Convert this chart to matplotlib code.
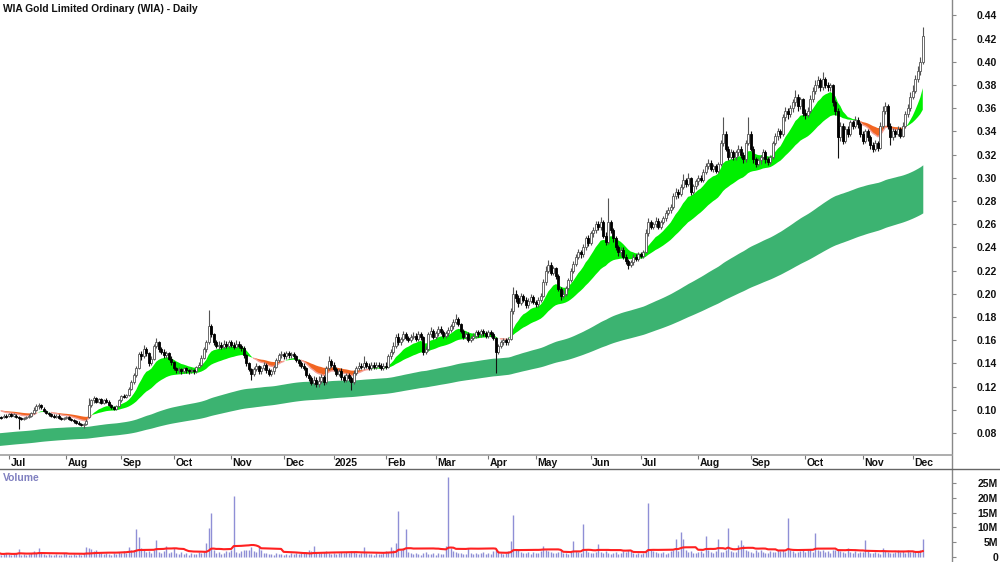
import numpy as np
import pandas as pd
import matplotlib
matplotlib.use("Agg")
import matplotlib.pyplot as plt
from matplotlib.lines import Line2D

plt.rcParams['font.family'] = ['Liberation Sans', 'DejaVu Sans']

# ---------------- data ----------------
title = "WIA Gold Limited Ordinary (WIA) - Daily"
start_date = "2024-06-25"
end_date = "2025-12-05"
holidays = ["2024-12-25", "2024-12-26", "2025-01-01", "2025-01-27",
            "2025-04-18", "2025-04-21", "2025-04-25", "2025-06-09"]

# prices in 0.1 cent units (divide by 1000 for A$)
open_m = [
    93, 94, 94, 95, 95, 96, 95, 95, 94, 93,
    92, 93, 94, 95, 97, 100, 103, 104, 101, 99,
    97, 96, 95, 94, 95, 93, 92, 93, 94, 92,
    91, 90, 89, 88, 87, 88, 94, 104, 108, 110,
    107, 109, 106, 108, 107, 104, 102, 101, 103, 108,
    112, 111, 113, 118, 124, 130, 136, 148, 146, 152,
    149, 140, 144, 155, 158, 152, 150, 147, 149, 144,
    141, 136, 134, 135, 133, 136, 134, 133, 134, 133,
    137, 139, 145, 152, 158, 172, 165, 158, 155, 156,
    154, 157, 155, 158, 156, 154, 157, 155, 153, 147,
    140, 135, 131, 135, 138, 133, 136, 139, 134, 131,
    133, 137, 143, 147, 148, 146, 149, 147, 148, 146,
    143, 140, 138, 136, 130, 127, 123, 126, 122, 125,
    128, 124, 136, 142, 139, 135, 131, 133, 128, 126,
    130, 127, 124, 132, 136, 138, 137, 140, 138, 136,
    139, 137, 139, 138, 136, 138, 137, 146, 150, 155,
    163, 158, 161, 165, 162, 160, 163, 164, 161, 165,
    163, 150, 152, 165, 168, 163, 166, 170, 167, 164,
    166, 169, 172, 176, 178, 174, 168, 163, 165, 160,
    162, 164, 167, 165, 168, 166, 164, 167, 165, 162,
    150, 155, 158, 160, 158, 161, 185, 200, 196, 192,
    198, 195, 190, 194, 197, 193, 191, 195, 198, 210,
    220, 225, 218, 222, 215, 204, 198, 200, 205, 212,
    220, 226, 232, 236, 234, 240, 248, 244, 252, 255,
    260, 258, 262, 250, 245, 262, 255, 248, 240, 236,
    238, 232, 228, 225, 227, 232, 230, 234, 233, 236,
    252, 262, 258, 260, 263, 258, 262, 265, 270, 272,
    275, 284, 288, 286, 292, 298, 295, 300, 288, 293,
    297, 300, 298, 305, 310, 313, 308, 310, 306, 312,
    330, 338, 325, 318, 322, 318, 322, 325, 320, 316,
    330, 338, 325, 316, 312, 315, 318, 322, 316, 314,
    318, 330, 336, 340, 338, 352, 358, 355, 360, 365,
    370, 362, 368, 356, 354, 358, 368, 375, 380, 384,
    378, 385, 380, 378, 380, 365, 358, 335, 345, 332,
    342, 338, 348, 345, 350, 346, 338, 332, 340, 335,
    328, 325, 330, 326, 345, 358, 362, 345, 335, 340,
    338, 342, 336, 345, 355, 360, 370, 375, 385, 392,
    400,
]
high_m = [
    96, 95, 96, 96, 97, 97, 97, 96, 95, 94,
    94, 95, 96, 98, 102, 105, 106, 105, 102, 100,
    98, 97, 96, 96, 96, 94, 94, 95, 95, 93,
    92, 91, 90, 89, 89, 92, 110, 109, 112, 111,
    110, 110, 109, 110, 108, 105, 103, 104, 109, 113,
    114, 114, 120, 126, 132, 138, 150, 151, 156, 154,
    150, 146, 157, 162, 159, 154, 152, 151, 150, 146,
    142, 137, 137, 136, 137, 137, 135, 136, 135, 138,
    141, 147, 154, 160, 186, 174, 166, 160, 159, 158,
    160, 159, 160, 160, 158, 160, 159, 157, 155, 148,
    141, 136, 137, 140, 139, 138, 141, 140, 136, 135,
    139, 145, 149, 151, 150, 151, 151, 150, 150, 147,
    144, 142, 140, 137, 132, 129, 129, 128, 129, 131,
    130, 138, 146, 144, 141, 137, 135, 136, 130, 132,
    132, 129, 134, 138, 141, 140, 146, 142, 140, 141,
    141, 141, 141, 140, 140, 141, 148, 152, 158, 165,
    166, 163, 168, 167, 164, 165, 167, 166, 168, 167,
    164, 155, 167, 171, 170, 168, 172, 172, 169, 168,
    171, 174, 178, 183, 180, 175, 170, 167, 167, 164,
    166, 169, 169, 170, 170, 168, 169, 169, 167, 163,
    157, 160, 162, 162, 163, 188, 206, 203, 199, 201,
    200, 197, 196, 200, 199, 195, 197, 201, 213, 224,
    229, 227, 224, 223, 217, 206, 203, 207, 214, 222,
    228, 234, 239, 238, 243, 250, 251, 254, 258, 263,
    263, 266, 264, 253, 283, 264, 257, 250, 242, 240,
    240, 234, 230, 229, 234, 234, 236, 236, 238, 256,
    265, 264, 262, 266, 265, 264, 267, 272, 275, 277,
    287, 291, 290, 295, 303, 300, 304, 301, 295, 299,
    302, 302, 308, 313, 316, 315, 312, 312, 314, 333,
    352, 340, 327, 325, 324, 324, 328, 327, 322, 333,
    352, 340, 327, 318, 317, 320, 325, 324, 318, 320,
    332, 339, 343, 342, 355, 361, 360, 363, 368, 376,
    372, 370, 369, 359, 361, 371, 378, 384, 388, 386,
    391, 387, 383, 382, 381, 367, 360, 348, 347, 345,
    345, 350, 350, 353, 352, 348, 340, 342, 342, 337,
    331, 333, 332, 348, 362, 365, 364, 347, 343, 342,
    345, 344, 348, 358, 364, 374, 380, 389, 396, 404,
    430,
]
low_m = [
    92, 92, 93, 93, 94, 94, 94, 93, 83, 91,
    91, 92, 93, 94, 96, 99, 101, 101, 98, 96,
    95, 94, 93, 93, 92, 91, 91, 92, 91, 90,
    89, 88, 87, 86, 84, 87, 93, 102, 106, 106,
    106, 105, 105, 106, 103, 101, 100, 100, 102, 107,
    110, 110, 112, 117, 122, 128, 135, 143, 145, 146,
    138, 139, 143, 153, 150, 148, 145, 145, 143, 139,
    134, 132, 132, 131, 132, 132, 131, 132, 131, 132,
    136, 138, 144, 150, 157, 163, 156, 153, 152, 152,
    152, 153, 153, 154, 152, 153, 153, 151, 145, 138,
    133, 126, 129, 133, 131, 131, 134, 132, 129, 129,
    131, 136, 141, 145, 144, 144, 145, 145, 144, 141,
    138, 136, 134, 128, 125, 121, 121, 120, 120, 123,
    121, 122, 134, 137, 133, 129, 129, 126, 124, 124,
    125, 117, 122, 130, 134, 135, 135, 136, 134, 134,
    135, 135, 136, 134, 134, 135, 136, 144, 148, 153,
    156, 156, 159, 160, 158, 158, 161, 159, 159, 160,
    147, 148, 151, 163, 161, 161, 164, 165, 162, 162,
    164, 167, 170, 174, 172, 166, 161, 161, 158, 158,
    160, 162, 163, 163, 164, 162, 162, 163, 160, 132,
    148, 153, 156, 156, 156, 160, 183, 193, 189, 190,
    193, 188, 188, 192, 191, 189, 189, 193, 197, 208,
    218, 216, 216, 213, 202, 195, 196, 198, 203, 210,
    218, 224, 230, 231, 232, 238, 241, 242, 249, 252,
    255, 255, 248, 242, 243, 252, 245, 238, 233, 233,
    230, 226, 221, 223, 225, 228, 228, 231, 231, 235,
    250, 256, 256, 258, 256, 256, 260, 263, 268, 270,
    273, 282, 283, 284, 290, 292, 293, 285, 286, 290,
    294, 296, 296, 303, 308, 306, 305, 304, 304, 310,
    327, 323, 315, 316, 315, 315, 319, 317, 313, 314,
    328, 323, 313, 309, 310, 312, 316, 313, 311, 312,
    316, 328, 333, 334, 336, 349, 351, 352, 357, 362,
    358, 359, 353, 351, 352, 356, 365, 372, 377, 375,
    376, 377, 375, 375, 362, 354, 317, 332, 329, 330,
    335, 336, 342, 343, 343, 335, 329, 330, 332, 325,
    322, 323, 323, 325, 343, 355, 342, 328, 333, 335,
    336, 334, 335, 343, 352, 358, 368, 373, 383, 389,
    398,
]
close_m = [
    94, 93, 95, 94, 96, 95, 96, 94, 93, 92,
    93, 94, 95, 97, 100, 103, 104, 102, 99, 97,
    96, 95, 94, 95, 93, 92, 93, 94, 92, 91,
    90, 89, 88, 87, 88, 90, 104, 108, 110, 107,
    109, 106, 108, 107, 104, 102, 101, 103, 108, 112,
    111, 113, 118, 124, 130, 136, 148, 146, 152, 149,
    140, 144, 155, 158, 152, 150, 147, 149, 144, 141,
    136, 134, 135, 133, 136, 134, 133, 134, 133, 137,
    139, 145, 152, 158, 172, 165, 158, 155, 156, 154,
    157, 155, 158, 156, 154, 157, 155, 153, 147, 140,
    135, 131, 135, 138, 133, 136, 139, 134, 131, 133,
    137, 143, 147, 148, 146, 149, 147, 148, 146, 143,
    140, 138, 136, 130, 127, 123, 126, 122, 125, 128,
    124, 136, 142, 139, 135, 131, 133, 128, 126, 130,
    127, 124, 132, 136, 138, 137, 140, 138, 136, 139,
    137, 139, 138, 136, 138, 137, 146, 150, 155, 163,
    158, 161, 165, 162, 160, 163, 164, 161, 165, 163,
    150, 152, 165, 168, 163, 166, 170, 167, 164, 166,
    169, 172, 176, 178, 174, 168, 163, 165, 160, 162,
    164, 167, 165, 168, 166, 164, 167, 165, 162, 150,
    155, 158, 160, 158, 161, 185, 200, 196, 192, 198,
    195, 190, 194, 197, 193, 191, 195, 198, 210, 220,
    225, 218, 222, 215, 204, 198, 200, 205, 212, 220,
    226, 232, 236, 234, 240, 248, 244, 252, 255, 260,
    258, 262, 250, 245, 262, 255, 248, 240, 236, 238,
    232, 228, 225, 227, 232, 230, 234, 233, 236, 252,
    262, 258, 260, 263, 258, 262, 265, 270, 272, 275,
    284, 288, 286, 292, 298, 295, 300, 288, 293, 297,
    300, 298, 305, 310, 313, 308, 310, 306, 312, 330,
    338, 325, 318, 322, 318, 322, 325, 320, 316, 330,
    338, 325, 316, 312, 315, 318, 322, 316, 314, 318,
    330, 336, 340, 338, 352, 358, 355, 360, 365, 370,
    362, 368, 356, 354, 358, 368, 375, 380, 384, 378,
    385, 380, 378, 380, 365, 358, 335, 345, 332, 342,
    338, 348, 345, 350, 346, 338, 332, 340, 335, 328,
    325, 330, 326, 345, 358, 362, 345, 335, 340, 338,
    342, 336, 345, 355, 360, 370, 375, 385, 392, 400,
    422,
]
# volume in units of 100,000 shares
volume_h = [
    13, 8, 10, 14, 11, 7, 10, 13, 27, 8,
    10, 7, 11, 14, 19, 13, 31, 16, 10, 8,
    11, 7, 8, 10, 6, 8, 13, 10, 7, 8,
    10, 7, 11, 8, 14, 35, 30, 28, 19, 22,
    16, 13, 10, 14, 11, 8, 13, 10, 16, 14,
    19, 13, 35, 22, 24, 95, 69, 30, 24, 16,
    19, 14, 22, 57, 16, 13, 19, 37, 14, 18,
    29, 13, 10, 16, 11, 14, 8, 13, 10, 11,
    16, 13, 19, 47, 99, 148, 22, 14, 16, 11,
    13, 19, 16, 22, 206, 18, 14, 19, 24, 22,
    25, 35, 19, 16, 37, 22, 14, 13, 10, 11,
    8, 13, 10, 11, 7, 10, 8, 13, 11, 14,
    10, 13, 16, 14, 22, 19, 37, 18, 14, 13,
    16, 19, 14, 11, 13, 10, 14, 16, 13, 18,
    14, 19, 16, 13, 11, 14, 33, 13, 10, 11,
    8, 13, 10, 11, 14, 19, 16, 33, 24, 48,
    155, 22, 29, 94, 18, 13, 10, 14, 11, 8,
    13, 16, 11, 10, 14, 8, 13, 10, 11, 37,
    270, 29, 19, 16, 13, 14, 10, 11, 29, 13,
    10, 14, 11, 13, 16, 10, 14, 11, 19, 22,
    16, 13, 11, 14, 19, 55, 142, 22, 22, 16,
    14, 13, 18, 11, 16, 14, 13, 19, 37, 22,
    19, 16, 13, 14, 18, 22, 14, 13, 11, 16,
    54, 19, 16, 14, 111, 22, 16, 13, 14, 18,
    44, 16, 13, 19, 14, 11, 13, 16, 10, 14,
    19, 16, 22, 22, 13, 11, 14, 10, 13, 19,
    184, 24, 19, 16, 14, 13, 18, 11, 14, 19,
    22, 60, 19, 83, 60, 22, 16, 19, 14, 13,
    16, 19, 14, 71, 22, 16, 14, 19, 62, 18,
    16, 22, 99, 19, 16, 18, 39, 58, 39, 22,
    19, 16, 14, 22, 18, 22, 16, 13, 14, 19,
    16, 18, 22, 19, 22, 16, 131, 22, 19, 14,
    16, 19, 22, 18, 25, 28, 16, 80, 24, 19,
    22, 16, 19, 14, 24, 22, 26, 19, 16, 14,
    32, 16, 13, 19, 14, 18, 16, 59, 19, 14,
    13, 16, 14, 11, 29, 19, 16, 14, 13, 18,
    22, 16, 19, 14, 22, 16, 19, 18, 19, 22,
    62,
]
short_seed = [0.101, 0.100]     # fast, slow edge of short band
long_seed = [0.080, 0.069]      # fast, slow edge of long band
short_periods = [12, 35]
long_periods = [140, 240]
price_ticks = [0.08, 0.10, 0.12, 0.14, 0.16, 0.18, 0.20, 0.22, 0.24,
               0.26, 0.28, 0.30, 0.32, 0.34, 0.36, 0.38, 0.40, 0.42, 0.44]
vol_ticks = [0, 5, 10, 15, 20, 25]
vol_tick_labels = ["0", "5M", "10M", "15M", "20M", "25M"]

# ---------------- derived ----------------
dates = pd.bdate_range(start_date, end_date)
dates = dates[~dates.isin(pd.to_datetime(holidays))]
o = np.array(open_m) / 1000.0
h = np.array(high_m) / 1000.0
l = np.array(low_m) / 1000.0
c = np.array(close_m) / 1000.0
vol = np.array(volume_h) / 10.0   # millions
n = len(c)
x = np.arange(n)


def ema(vals, period, seed):
    a = 2.0 / (period + 1)
    out = np.empty(len(vals))
    e = seed
    for i, v in enumerate(vals):
        e = e + a * (v - e)
        out[i] = e
    return out


s_fast = ema(c, short_periods[0], short_seed[0])
s_slow = ema(c, short_periods[1], short_seed[1])
l_fast = ema(c, long_periods[0], long_seed[0])
l_slow = ema(c, long_periods[1], long_seed[1])
vol_ma = pd.Series(vol).rolling(20, min_periods=1).mean().values

# month ticks: first trading day of each month in the series
per = dates.to_period('M')
tick_idx = [i for i in range(n) if i > 0 and per[i] != per[i - 1]]
tick_lab = [str(dates[i].year) if dates[i].month == 1 else dates[i].strftime('%b')
            for i in tick_idx]

# ---------------- figure ----------------
W, H = 1000, 562
fig = plt.figure(figsize=(W / 100, H / 100), dpi=100)
fig.patch.set_facecolor('white')
right = 952 / W
ax = fig.add_axes([0, (H - 455) / H, right, 455 / H])
axd = fig.add_axes([0, (H - 469) / H, right, 14 / H])
axv = fig.add_axes([0, 0, right, (H - 469) / H])

xlim = (0.4, 381.7)
for a in (ax, axd, axv):
    a.set_xlim(*xlim)
    for s in a.spines.values():
        s.set_visible(False)

ax.set_ylim(0.0610, 0.4533)
# long band
ax.fill_between(x, l_slow, l_fast, color='#3cb371', lw=0, zorder=1)
# short band
up = s_fast >= s_slow
ax.fill_between(x, s_slow, s_fast, where=up, interpolate=True,
                color='#00f000', lw=0, zorder=2)
ax.fill_between(x, s_slow, s_fast, where=~up, interpolate=True,
                color='#f26522', lw=0, zorder=2)
sf_dn = np.where(~up, s_fast, np.nan)
ax.plot(x, sf_dn, color='#f4a09a', lw=1.0, zorder=2)

# candles
white = c >= o
ax.vlines(x[white], l[white], h[white], color='#555555', lw=0.8, zorder=3)
ax.vlines(x[~white], l[~white], h[~white], color='#111111', lw=0.8, zorder=3)
body_lo = np.minimum(o, c)
body_h = np.maximum(np.abs(c - o), 0.0008)
ax.bar(x[white], body_h[white], bottom=body_lo[white], width=0.8,
       facecolor='white', edgecolor='#555555', linewidth=0.6, zorder=4)
ax.bar(x[~white], body_h[~white], bottom=body_lo[~white], width=0.8,
       facecolor='black', edgecolor='black', linewidth=0.6, zorder=4)

# price axis on right
ax.yaxis.tick_right()
ax.set_yticks(price_ticks)
ax.set_yticklabels([f"{v:.2f}" for v in price_ticks])
ax.tick_params(axis='y', direction='out', length=3, width=0.8, color='#888888',
               pad=29.5, labelsize=7.5, labelcolor='#111111')
for lb in ax.get_yticklabels():
    lb.set_horizontalalignment('right')
    lb.set_fontweight('bold')
ax.set_xticks([])

# date strip
axd.set_ylim(0, 1)
axd.set_yticks([])
axd.set_xticks(tick_idx)
axd.tick_params(axis='x', direction='in', length=3, width=0.8, color='#777777',
                top=True, bottom=False, labelbottom=False)
for i, lab in zip(tick_idx, tick_lab):
    axd.text(i + 0.6, 0.45, lab, ha='left', va='center', fontsize=7.5,
             fontweight='bold', color='#111111')

# volume
axv.set_ylim(-1.69, 29.73)
axv.vlines(x, 0, vol, color='#8f8fd6', lw=1.0, zorder=2)
axv.plot(x, vol_ma, color='#ff2020', lw=1.5, zorder=3)
axv.yaxis.tick_right()
axv.set_yticks(vol_ticks)
axv.set_yticklabels(vol_tick_labels)
axv.tick_params(axis='y', direction='out', length=3, width=0.8, color='#888888',
                pad=30.2, labelsize=7.5, labelcolor='#111111')
for lb in axv.get_yticklabels():
    lb.set_horizontalalignment('right')
    lb.set_fontweight('bold')
axv.set_xticks([])
axv.text(3 / 952, 1 - 9 / 93, "Volume", transform=axv.transAxes, ha='left',
         va='center', fontsize=7.5, fontweight='bold', color='#8080c0')

# frame lines
fig.add_artist(Line2D([right, right], [0, 1], color='#888888', lw=1.0))
fig.add_artist(Line2D([0, right], [(H - 455) / H] * 2, color='#a0a0a0', lw=1.2))
fig.add_artist(Line2D([0, 1], [(H - 469) / H] * 2, color='#666666', lw=1.0))

fig.text(3 / W, 1 - 9 / H, title, ha='left', va='center', fontsize=7.4,
         fontweight='bold', color='#111111')

fig.savefig('out.png', dpi=100)
